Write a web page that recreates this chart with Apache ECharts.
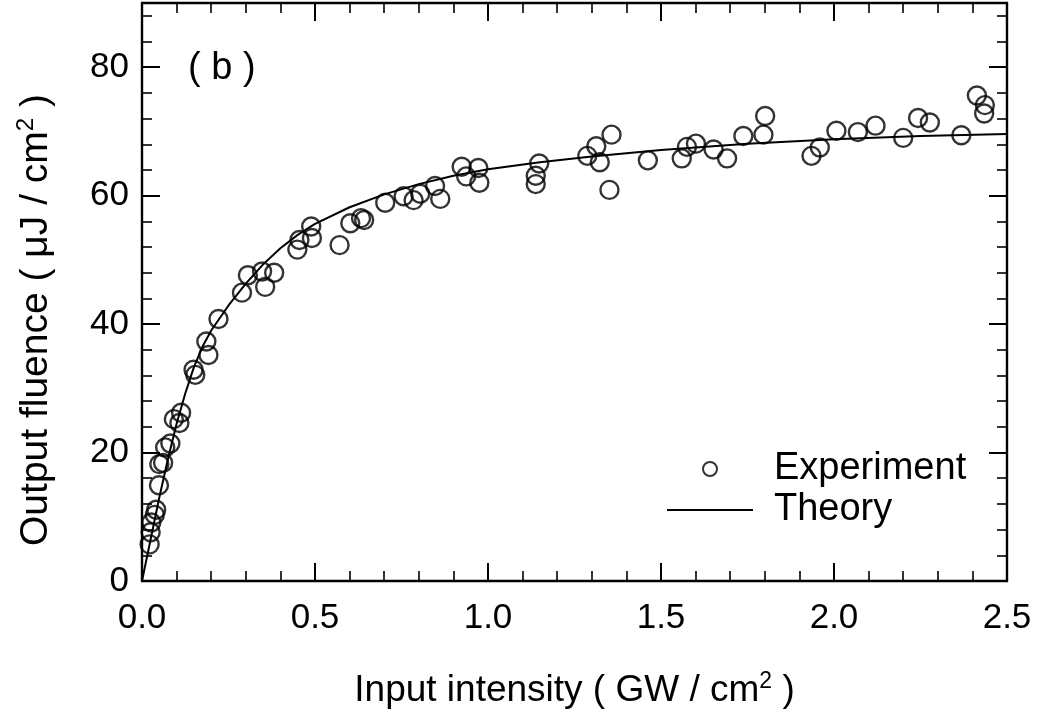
<!DOCTYPE html>
<html>
<head>
<meta charset="utf-8">
<script src="https://cdn.jsdelivr.net/npm/echarts@6/dist/echarts.min.js"></script>
<style>
html,body{margin:0;padding:0;background:#fff;}
#chart{width:1043px;height:719px;}
</style>
</head>
<body>
<div id="chart"></div>
<script>
// Experimental points
var expX = [0.022, 0.025, 0.027, 0.037, 0.041, 0.049, 0.050, 0.061, 0.067, 0.082, 0.092, 0.108, 0.113,
            0.149, 0.154, 0.186, 0.192, 0.221, 0.289, 0.306, 0.347, 0.356, 0.382, 0.449, 0.455, 0.489,
            0.491, 0.571, 0.602, 0.633, 0.642, 0.703, 0.756, 0.785, 0.804, 0.847, 0.862, 0.924, 0.937,
            0.972, 0.975, 1.138, 1.138, 1.148, 1.287, 1.313, 1.323, 1.351, 1.357, 1.462, 1.560, 1.575,
            1.601, 1.652, 1.691, 1.738, 1.796, 1.801, 1.935, 1.959, 2.007, 2.069, 2.120, 2.200, 2.243,
            2.277, 2.368, 2.413, 2.436, 2.434];
var expY = [5.7, 7.6, 9.1, 10.3, 11.1, 14.9, 18.2, 18.4, 20.8, 21.4, 25.2, 24.6, 26.2,
            32.9, 32.1, 37.3, 35.2, 40.8, 44.9, 47.6, 48.2, 45.8, 48.0, 51.6, 53.1, 55.2,
            53.4, 52.3, 55.7, 56.5, 56.2, 58.9, 59.9, 59.3, 60.3, 61.5, 59.5, 64.5, 63.0,
            64.3, 62.0, 63.1, 61.8, 65.0, 66.2, 67.7, 65.2, 60.9, 69.5, 65.5, 65.8, 67.6,
            68.1, 67.2, 65.8, 69.3, 69.5, 72.4, 66.2, 67.5, 70.1, 69.9, 70.9, 69.0, 72.1,
            71.4, 69.4, 75.6, 74.1, 72.8];
// Theory curve
var theoryX = [0, 0.025, 0.05, 0.075, 0.1, 0.125, 0.15, 0.175, 0.2, 0.25, 0.3, 0.35, 0.4, 0.45, 0.5,
               0.6, 0.7, 0.8, 0.9, 1.0, 1.15, 1.3, 1.5, 1.75, 2.0, 2.25, 2.5];
var theoryY = [0, 6.5, 13, 19, 24.5, 29.2, 33.3, 36.5, 39.0, 42.9, 46.3, 49.3, 51.8, 53.9, 55.6,
               58.2, 60.2, 61.8, 63.1, 64.1, 65.2, 66.1, 67.1, 68.1, 68.8, 69.3, 69.6];
// Axis ticks
var xTicks = [0, 0.5, 1.0, 1.5, 2.0, 2.5];
var yTicks = [0, 20, 40, 60, 80];

var FONT = 'Liberation Sans';
var chart = echarts.init(document.getElementById('chart'), null, {renderer: 'canvas'});

function zip(a, b) { return a.map(function (v, i) { return [v, b[i]]; }); }

var axisLine = {show: true, onZero: false, lineStyle: {color: '#000', width: 2.4}};
function xAx(pos, labels) {
  return {
    type: 'value', position: pos, min: xTicks[0], max: xTicks[xTicks.length - 1],
    interval: xTicks[1] - xTicks[0],
    axisLine: axisLine,
    axisTick: {show: true, inside: true, length: 18, lineStyle: {color: '#000', width: 2}},
    minorTick: {show: true, splitNumber: 5, length: 10, lineStyle: {color: '#000', width: 1.6}},
    splitLine: {show: false}, minorSplitLine: {show: false},
    axisLabel: labels ? {show: true, color: '#000', fontFamily: FONT, fontSize: 35, margin: 20,
      formatter: function (v) { return v.toFixed(1); }} : {show: false},
    name: labels ? 'Input intensity ( GW / cm{sup|2} )' : '',
    nameLocation: 'middle', nameGap: 89,
    nameTextStyle: {color: '#000', fontFamily: FONT, fontSize: 37, lineHeight: 42,
      rich: {sup: {fontSize: 23, fontFamily: FONT, color: '#000', verticalAlign: 'top', lineHeight: 24}}}
  };
}
function yAx(pos, labels, minor) {
  return {
    type: 'value', position: pos, min: 0, max: 90,
    interval: minor ? 4 : (yTicks[1] - yTicks[0]),
    axisLine: minor ? {show: false, onZero: false} : axisLine,
    axisTick: {show: true, inside: true, length: minor ? 10 : 18,
      lineStyle: {color: '#000', width: minor ? 1.6 : 2}},
    splitLine: {show: false},
    axisLabel: labels ? {show: true, color: '#000', fontFamily: FONT, fontSize: 35, margin: 13,
      showMaxLabel: false,
      formatter: function (v) { return yTicks.indexOf(v) >= 0 ? String(v) : ''; }} : {show: false},
    name: labels ? 'Output fluence ( μJ / cm{sup|2} )' : '',
    nameLocation: 'middle', nameGap: 84, nameRotate: 90,
    nameTextStyle: {color: '#000', fontFamily: FONT, fontSize: 39, lineHeight: 44, padding: [0, 56, 0, 0],
      rich: {sup: {fontSize: 24, fontFamily: FONT, color: '#000', verticalAlign: 'top', lineHeight: 25}}}
  };
}

var option = {
  backgroundColor: '#fff',
  animation: false,
  grid: {left: 142, right: 36, top: 3, bottom: 138, containLabel: false},
  xAxis: [xAx('bottom', true), xAx('top', false)],
  yAxis: [yAx('left', true, false), yAx('right', false, false), yAx('left', false, true), yAx('right', false, true)],
  legend: {
    data: ['Experiment', {name: 'Theory', itemStyle: {color: 'rgba(0,0,0,0)', borderWidth: 0}}],
    orient: 'vertical', left: 666, top: 450, padding: 0,
    itemWidth: 86, itemHeight: 14, itemGap: 3,
    textStyle: {color: '#000', fontFamily: FONT, fontSize: 38, lineHeight: 36, padding: [0, 0, 0, 16]},
    selectedMode: false
  },
  graphic: [{
    type: 'text', left: 188, top: 50,
    style: {text: '( b )', fill: '#000', font: '38px "Liberation Sans"'}
  }],
  series: [
    {
      name: 'Theory', type: 'line', xAxisIndex: 0, yAxisIndex: 0,
      data: zip(theoryX, theoryY), symbol: 'none', smooth: false,
      lineStyle: {color: '#000', width: 2}, itemStyle: {color: '#000'}, z: 2
    },
    {
      name: 'Experiment', type: 'scatter', xAxisIndex: 0, yAxisIndex: 0,
      data: zip(expX, expY), symbol: 'circle', symbolSize: 18,
      itemStyle: {color: 'rgba(0,0,0,0)', borderColor: '#000', borderWidth: 2.4}, z: 3
    }
  ]
};
chart.setOption(option);
</script>
</body>
</html>
